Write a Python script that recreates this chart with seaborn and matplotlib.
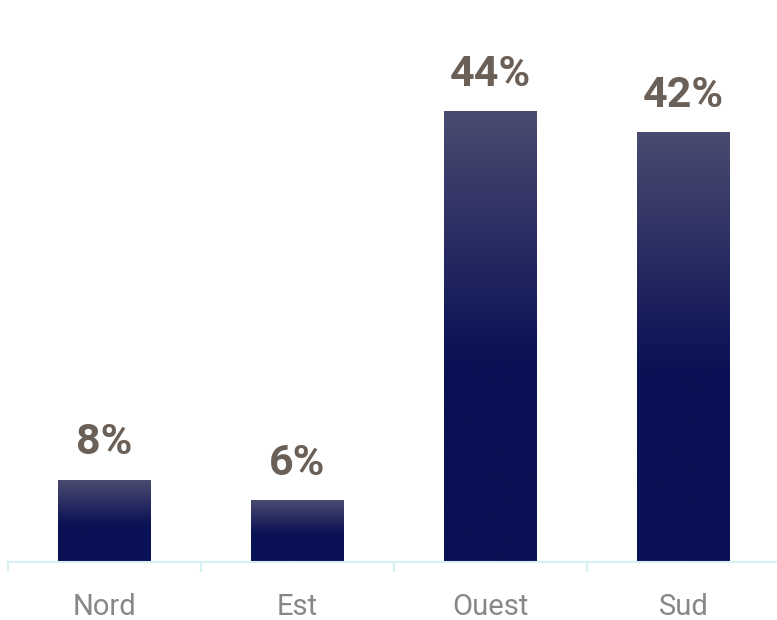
import numpy as np
import matplotlib
matplotlib.use("Agg")
import matplotlib.pyplot as plt
from matplotlib.colors import LinearSegmentedColormap
import seaborn as sns

# Regional share of the total, in percent
regions = ["Nord", "Est", "Ouest", "Sud"]
shares = [8, 6, 44, 42]
value_labels = ["8%", "6%", "44%", "42%"]

sns.set_theme(style="white")
plt.rcParams["font.family"] = ["Roboto", "DejaVu Sans"]

W, H = 777, 620
fig = plt.figure(figsize=(W / 100, H / 100), dpi=100)
ax = fig.add_axes([8 / W, 58 / H, 772 / W, 562 / H])

sns.barplot(x=regions, y=shares, width=0.477, color="#0b1257", ax=ax, zorder=2)

ax.set_xlim(-0.5, 3.5)
ax.set_ylim(0, 562 / 10.23)

# Vertical gradient fill: lighter slate at the top fading into deep navy
top_col = "#4a4b70"
bot_col = "#0a1155"
cmap = LinearSegmentedColormap.from_list(
    "bar_grad", [(0.0, bot_col), (0.45, bot_col), (1.0, top_col)]
)
grad = np.linspace(0, 1, 256).reshape(-1, 1)

for patch, lab in zip(ax.patches, value_labels):
    x0, y0 = patch.get_x(), patch.get_y()
    w, h = patch.get_width(), patch.get_height()
    patch.set_facecolor("none")
    patch.set_edgecolor("none")
    ax.imshow(grad, cmap=cmap, origin="lower", aspect="auto",
              extent=(x0, x0 + w, y0, y0 + h), zorder=2, interpolation="bicubic")
    ax.annotate(lab, (x0 + w / 2, y0 + h), xytext=(0, 12),
                textcoords="offset points", ha="center", va="bottom",
                fontsize=31, fontweight="bold", color="#6b6058",
                family=["Roboto", "DejaVu Sans"])

for s in ["left", "right", "top"]:
    ax.spines[s].set_visible(False)
ax.spines["bottom"].set_color("#d6f1f4")
ax.spines["bottom"].set_linewidth(1.5)

ax.set_yticks([])
ax.set_xticks(range(len(regions)))
ax.set_xticklabels(regions, fontsize=21, color="#878787", fontweight="normal")
ax.set_xticks([-0.5, 0.5, 1.5, 2.5, 3.5], minor=True)
ax.tick_params(axis="x", which="major", length=0, pad=22)
ax.tick_params(axis="x", which="minor", length=7.5, width=1.5,
               color="#d6f1f4", direction="out", bottom=True)
ax.set_xlabel("")
ax.set_ylabel("")

fig.savefig("out.png", dpi=100)
